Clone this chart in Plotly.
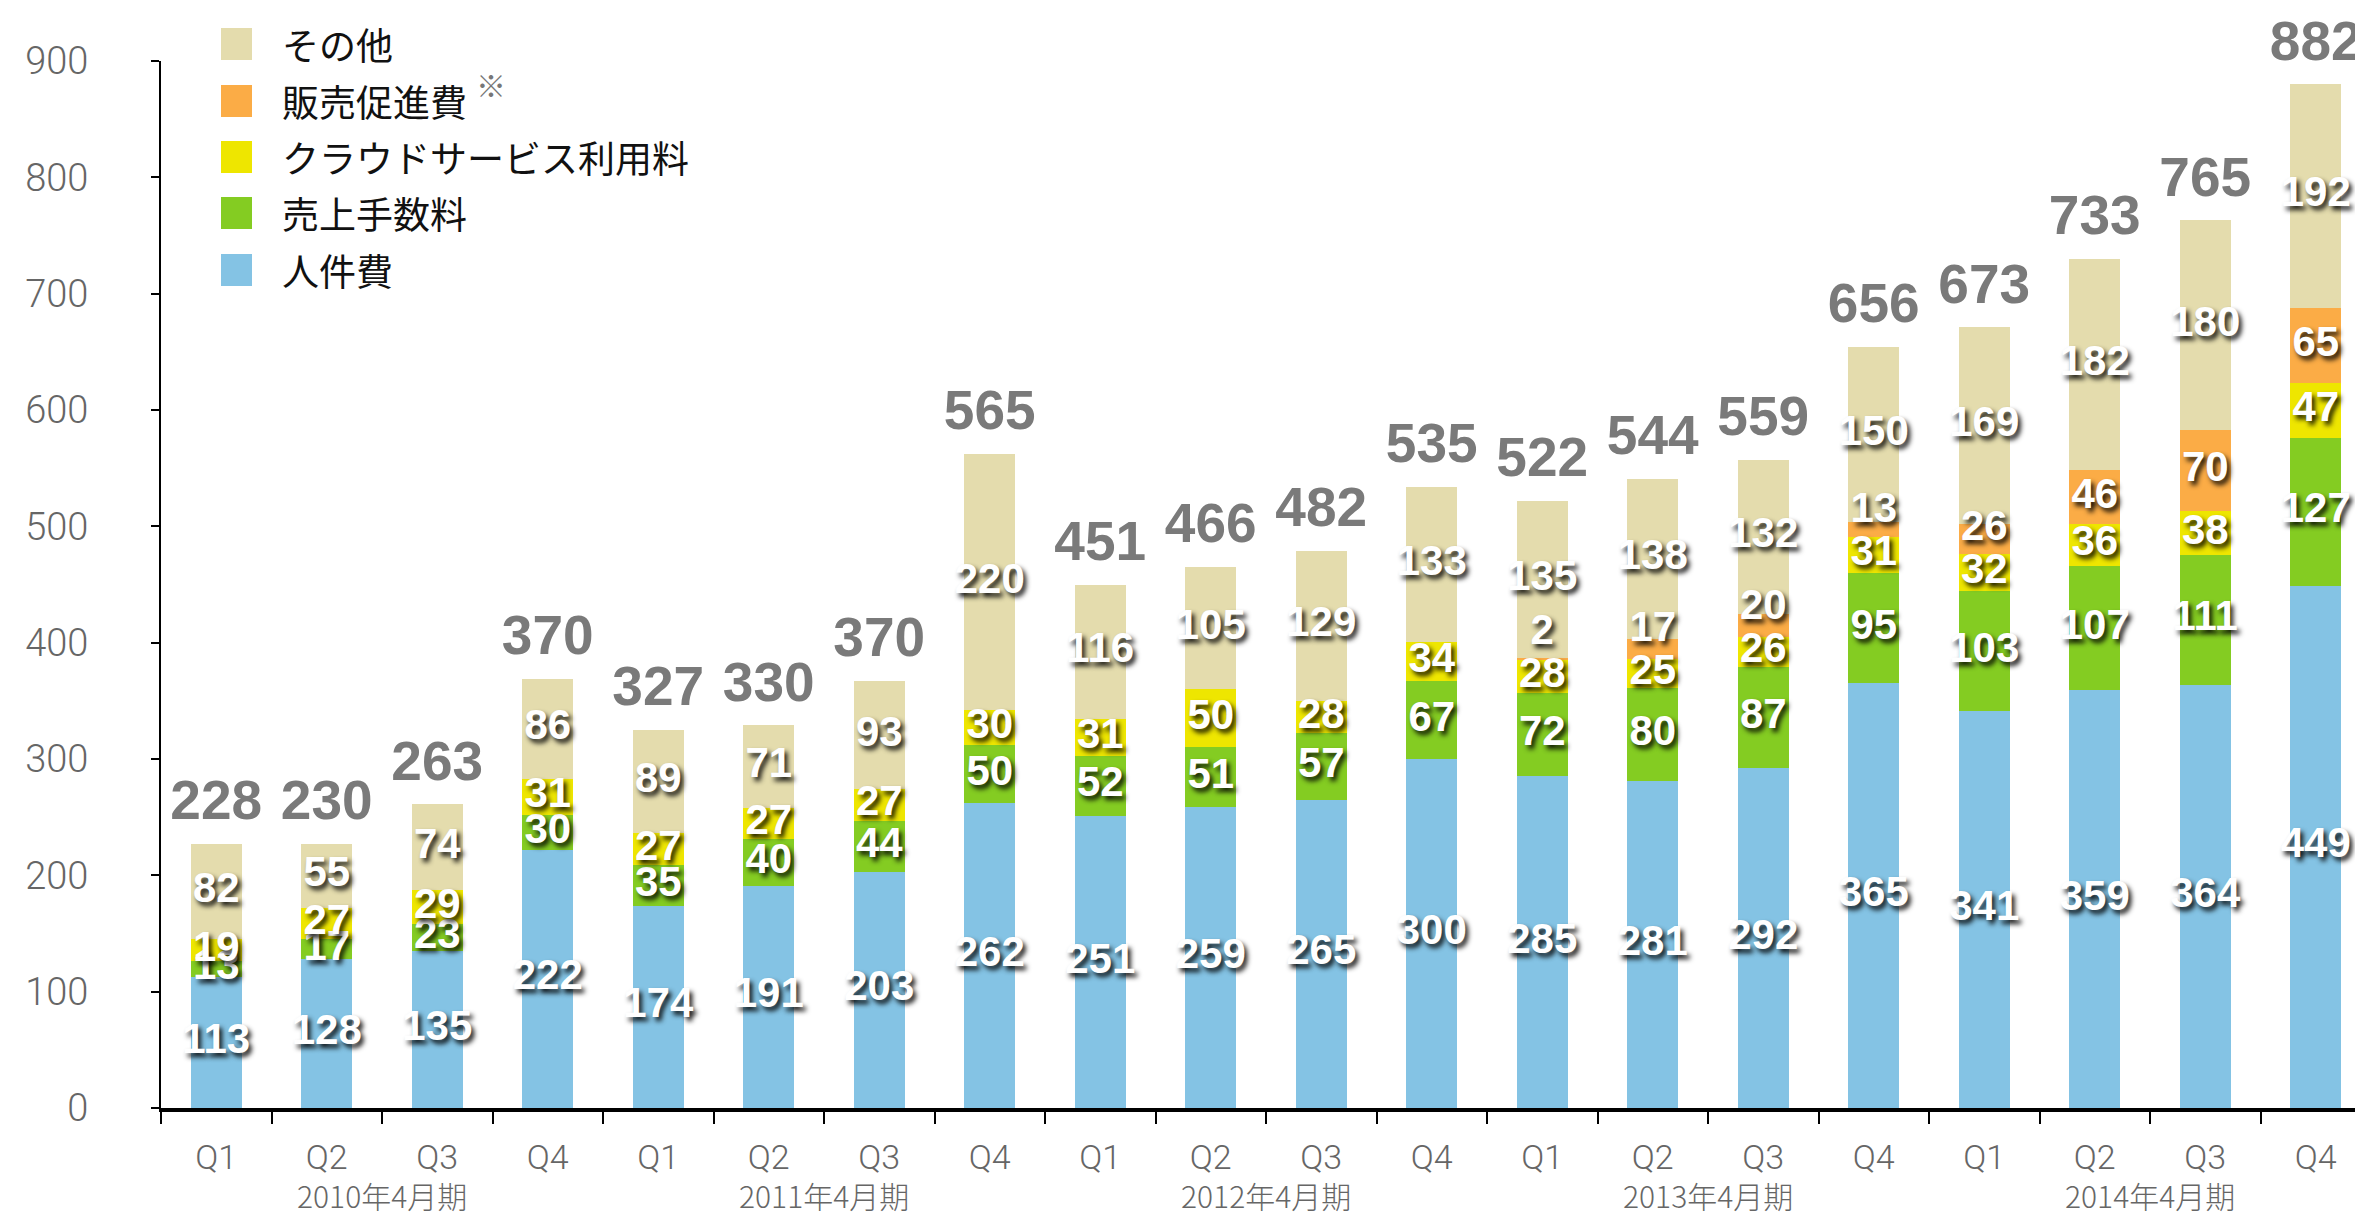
import numpy as np
import plotly.graph_objects as go

# ---------------- data ----------------
fiscal_years = ["2010年4月期", "2011年4月期", "2012年4月期", "2013年4月期", "2014年4月期"]
quarters = ["Q1", "Q2", "Q3", "Q4"]

personnel = [113, 128, 135, 222, 174, 191, 203, 262, 251, 259, 265, 300, 285, 281, 292, 365, 341, 359, 364, 449]
sales_fee = [13, 17, 23, 30, 35, 40, 44, 50, 52, 51, 57, 67, 72, 80, 87, 95, 103, 107, 111, 127]
cloud = [19, 27, 29, 31, 27, 27, 27, 30, 31, 50, 28, 34, 28, 25, 26, 31, 32, 36, 38, 47]
promotion = [0, 0, 0, 0, 0, 0, 0, 0, 0, 0, 0, 0, 2, 17, 20, 13, 26, 46, 70, 65]
other = [82, 55, 74, 86, 89, 71, 93, 220, 116, 105, 129, 133, 135, 138, 132, 150, 169, 182, 180, 192]
totals = [228, 230, 263, 370, 327, 330, 370, 565, 451, 466, 482, 535, 522, 544, 559, 656, 673, 733, 765, 882]

series_names = ["人件費", "売上手数料", "クラウドサービス利用料", "販売促進費", "その他"]
series_values = [personnel, sales_fee, cloud, promotion, other]
series_colors = ["#84C3E4", "#84CC22", "#EEE600", "#FBAC46", "#E4DCAD"]

y_ticks = [0, 100, 200, 300, 400, 500, 600, 700, 800, 900]

# ---------------- layout constants ----------------
W, H = 2363, 1217
L, R, T, B = 153, 0, 53, 117
PW, PH = W - L - R, H - T - B


def px_x(p):
    return (p - L) / PW


def px_y(p):
    return (T + PH - p) / PH


cats = [f"{fy} {q}" for fy in fiscal_years for q in quarters]
q_labels = [q for fy in fiscal_years for q in quarters]

fig = go.Figure()

# stacked bars
for name, vals, col in zip(series_names, series_values, series_colors):
    fig.add_trace(go.Bar(
        x=cats, y=vals, name=name, marker=dict(color=col, line=dict(width=0)),
        width=0.46, showlegend=False, hoverinfo="x+y+name",
    ))

# inner value labels (centered in each segment, promo labels nudged up when cramped)
arr = np.array(series_values, dtype=float)
bottoms = np.vstack([np.zeros(arr.shape[1]), np.cumsum(arr, axis=0)[:-1]])
centers = bottoms + arr / 2.0
label_font = dict(family="Liberation Sans, Arial, sans-serif", size=42, color="white",
                  weight="bold", shadow="3px 4px 5px rgba(0,0,0,0.9)")
for i, name in enumerate(series_names):
    ys = centers[i].copy()
    if name == "販売促進費":
        ys = np.maximum(ys, centers[i - 1] + 37)
    xs, yv, tx = [], [], []
    for j in range(len(cats)):
        if series_values[i][j] > 0:
            xs.append(cats[j]); yv.append(ys[j]); tx.append(str(series_values[i][j]))
    fig.add_trace(go.Scatter(
        x=xs, y=yv, text=tx, mode="text", textposition="middle center",
        textfont=label_font, showlegend=False, hoverinfo="skip", cliponaxis=False,
    ))

# total labels
stack_tops = arr.sum(axis=0)
fig.add_trace(go.Scatter(
    x=cats, y=stack_tops, text=[str(t) for t in totals], mode="markers+text",
    textposition="top center", marker=dict(size=16, opacity=0),
    textfont=dict(family="Liberation Sans, Arial, sans-serif", size=55, color="#7A7A7A", weight="bold"),
    showlegend=False, hoverinfo="skip", cliponaxis=False,
))

# fiscal year labels under the quarter labels
annotations = []
for k, fy in enumerate(fiscal_years):
    annotations.append(dict(
        x=4 * k + 1.5, xref="x", y=px_y(1187), yref="paper", text=fy, showarrow=False,
        xanchor="center", yanchor="middle", borderpad=0,
        font=dict(family="Noto Sans CJK JP, sans-serif", size=30, color="#666666", weight=300),
    ))

# legend (top-left, reversed stack order)
shapes = []
legend_y = [36, 93, 149, 205, 262]
for (name, col), cy in zip(reversed(list(zip(series_names, series_colors))), legend_y):
    shapes.append(dict(type="rect", xref="paper", yref="paper",
                       x0=px_x(213), x1=px_x(244), y0=px_y(cy + 16), y1=px_y(cy - 16),
                       fillcolor=col, line=dict(width=0), layer="above"))
    annotations.append(dict(x=px_x(272), y=px_y(cy), xref="paper", yref="paper", text=name,
                            showarrow=False, xanchor="left", yanchor="middle",
                            font=dict(family="Noto Sans CJK JP, sans-serif", size=37, color="#111111")))
annotations.append(dict(x=px_x(466), y=px_y(76), xref="paper", yref="paper", text="※",
                        showarrow=False, xanchor="left", yanchor="middle",
                        font=dict(family="Noto Sans CJK JP, sans-serif", size=30, color="#777777")))

fig.update_layout(
    width=W, height=H,
    margin=dict(l=L, r=R, t=T, b=B, pad=0),
    paper_bgcolor="white", plot_bgcolor="white",
    barmode="stack", bargap=0.54,
    shapes=shapes, annotations=annotations,
    xaxis=dict(
        type="category", categoryorder="array", categoryarray=cats,
        range=[-0.5, len(cats) - 0.5],
        tickmode="array", tickvals=cats, ticktext=q_labels, tickson="boundaries",
        ticks="outside", ticklen=12, tickwidth=2, tickcolor="black",
        showline=True, linewidth=4, linecolor="black", showgrid=False, zeroline=False,
        tickfont=dict(family="Roboto, Liberation Sans, sans-serif", size=34, color="#666666", weight=300),
        ticklabelstandoff=16,
    ),
    yaxis=dict(
        range=[0, 900], tickmode="array", tickvals=y_ticks,
        ticks="outside", ticklen=8, tickwidth=2, tickcolor="black",
        showline=True, linewidth=2, linecolor="black", showgrid=False, zeroline=False,
        tickfont=dict(family="Roboto, Liberation Sans, sans-serif", size=38, color="#666666", weight=300),
        ticklabelstandoff=55,
    ),
)

fig.write_html("out.html")
